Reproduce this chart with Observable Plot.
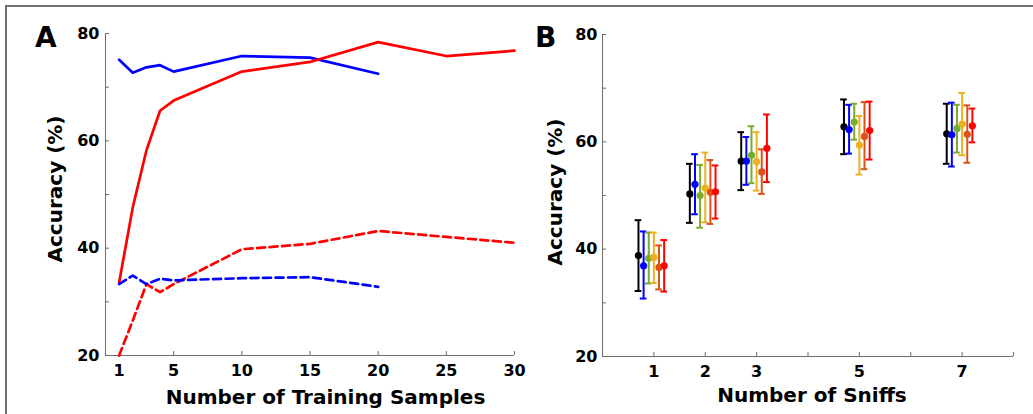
<!DOCTYPE html>
<html><head><meta charset="utf-8">
<script src="https://cdn.jsdelivr.net/npm/d3@7"></script>
<script src="https://cdn.jsdelivr.net/npm/@observablehq/plot@0.6"></script>
<style>
body{margin:0;background:#fff;}
#fig{position:relative;width:1033px;height:414px;overflow:hidden;background:#fff;font-family:"DejaVu Sans",sans-serif;}
#fig > svg{position:absolute;top:0;}
</style></head><body><div id="fig"></div>
<script>
// ---------- Panel A data ----------
const samplesBlue = [1, 2, 3, 4, 5, 10, 15, 20];
const samplesRed = [1, 2, 3, 4, 5, 10, 15, 20, 25, 30];
const blueSolid = [75.1, 72.7, 73.7, 74.1, 72.9, 75.8, 75.5, 72.5];
const blueDashed = [33.3, 34.9, 33.3, 34.3, 34.0, 34.4, 34.6, 32.8];
const redSolid = [33.6, 47.6, 58.2, 65.6, 67.5, 72.9, 74.7, 78.4, 75.8, 76.8];
const redDashed = [20.0, 26.5, 33.3, 31.8, 33.3, 39.8, 40.8, 43.2, 42.1, 41.0];
const xTickLabelsA = [1, 5, 10, 15, 20, 25, 30];
const xTickMarksA = [5, 10, 15, 20, 25, 30];
const yTickLabels = [20, 40, 60, 80];
const yTickMarks = [20, 30, 40, 50, 60, 70, 80];

// ---------- Panel B data ----------
const sniffCounts = [1, 2, 3, 5, 7];
const xTickLabelsB = [1, 2, 3, 5, 7];
const xTickMarksB = [1, 2, 3, 4, 5, 6, 7, 8];
const seriesColors = ["#000000", "#0000FF", "#77AC30", "#EDB120", "#D95319", "#FF0000"];
const meanB = [
  [38.8, 50.3, 56.4, 62.8, 61.5],
  [36.9, 52.1, 56.4, 62.3, 61.3],
  [38.3, 50.0, 57.5, 63.7, 62.5],
  [38.5, 51.4, 56.3, 59.4, 63.3],
  [36.6, 50.6, 54.4, 61.0, 61.4],
  [36.9, 50.7, 58.8, 62.1, 63.0]
];
const upperB = [
  [45.4, 55.9, 61.8, 67.9, 67.1],
  [43.3, 57.7, 60.9, 66.9, 67.3],
  [43.1, 55.7, 62.9, 67.1, 66.9],
  [43.1, 58.0, 61.8, 64.8, 69.1],
  [40.7, 56.6, 58.6, 67.4, 66.8],
  [41.7, 55.6, 65.1, 67.5, 66.2]
];
const lowerB = [
  [32.2, 44.9, 51.0, 57.7, 55.9],
  [30.8, 46.5, 52.0, 57.8, 55.4],
  [33.6, 44.0, 52.3, 60.4, 58.0],
  [33.7, 45.0, 50.9, 53.9, 57.5],
  [32.5, 44.7, 50.3, 54.9, 56.1],
  [32.1, 45.7, 52.5, 56.7, 59.9]
];

const axisGray = "#6e6e6e";
const font = '"DejaVu Sans", sans-serif';
const baseStyle = {fontFamily: font, fontWeight: "bold", fontSize: "16px", color: "#000", background: "transparent", overflow: "visible"};

const toRows = (xs, ys) => xs.map((x, i) => ({x, y: ys[i]}));

const fig = document.getElementById("fig");

const plotA = Plot.plot({
  width: 520, height: 414,
  marginLeft: 105, marginRight: 6, marginTop: 33, marginBottom: 59,
  x: {domain: [0, 30], label: null},
  y: {domain: [20, 80], label: null},
  style: baseStyle,
  marks: [
    Plot.ruleY([20], {stroke: axisGray}),
    Plot.ruleX([0], {stroke: axisGray}),
    Plot.axisY({ticks: yTickMarks, tickSize: -4, tickFormat: () => "", color: axisGray, label: null}),
    Plot.axisY({ticks: yTickLabels, tickSize: 0, tickPadding: 6, color: "#000", label: null}),
    Plot.axisX({ticks: xTickMarksA, tickSize: -4, tickFormat: () => "", color: axisGray, label: null}),
    Plot.axisX({ticks: xTickLabelsA, tickSize: 0, tickPadding: 9, color: "#000", label: null}),
    Plot.line(toRows(samplesBlue, blueSolid), {x: "x", y: "y", stroke: "#0000FF", strokeWidth: 2.7}),
    Plot.line(toRows(samplesRed, redSolid), {x: "x", y: "y", stroke: "#FF0000", strokeWidth: 2.7}),
    Plot.line(toRows(samplesRed, redDashed), {x: "x", y: "y", stroke: "#FF0000", strokeWidth: 2.7, strokeDasharray: "8,4.5"}),
    Plot.line(toRows(samplesBlue, blueDashed), {x: "x", y: "y", stroke: "#0000FF", strokeWidth: 2.7, strokeDasharray: "8,4.5"})
  ]
});
plotA.style.left = "0px";
fig.appendChild(plotA);

// error bar rows, dodged by series index
const dodge = 0.1, capHalf = 0.065;
const seriesMarks = seriesColors.flatMap((color, s) => {
  const rows = sniffCounts.map((n, i) => ({
    x: n + (s - 3) * dodge, mean: meanB[s][i], lo: lowerB[s][i], hi: upperB[s][i]
  }));
  return [
    Plot.ruleX(rows, {x: "x", y1: "lo", y2: "hi", stroke: color, strokeWidth: 2}),
    Plot.ruleY(rows, {y: "hi", x1: d => d.x - capHalf, x2: d => d.x + capHalf, stroke: color, strokeWidth: 2}),
    Plot.ruleY(rows, {y: "lo", x1: d => d.x - capHalf, x2: d => d.x + capHalf, stroke: color, strokeWidth: 2}),
    Plot.dot(rows, {x: "x", y: "mean", fill: color, r: 3.6})
  ];
});

const plotB = Plot.plot({
  width: 513, height: 414,
  marginLeft: 82, marginRight: 20, marginTop: 34, marginBottom: 58,
  x: {domain: [0, 8], label: null},
  y: {domain: [20, 80], label: null},
  style: baseStyle,
  marks: [
    Plot.ruleY([20], {stroke: axisGray}),
    Plot.ruleX([0], {stroke: axisGray}),
    Plot.axisY({ticks: yTickMarks, tickSize: -4, tickFormat: () => "", color: axisGray, label: null}),
    Plot.axisY({ticks: yTickLabels, tickSize: 0, tickPadding: 5, color: "#000", label: null}),
    Plot.axisX({ticks: xTickMarksB, tickSize: -4, tickFormat: () => "", color: axisGray, label: null}),
    Plot.axisX({ticks: xTickLabelsB, tickSize: 0, tickPadding: 9, color: "#000", label: null}),
    ...seriesMarks
  ]
});
plotB.style.left = "520px";
fig.appendChild(plotB);

// overlay: border, panel letters, axis titles
const ns = "http://www.w3.org/2000/svg";
const ov = document.createElementNS(ns, "svg");
ov.setAttribute("width", 1033); ov.setAttribute("height", 414);
ov.style.left = "0px"; ov.style.pointerEvents = "none";
function addLine(x1, y1, x2, y2) {
  const l = document.createElementNS(ns, "line");
  l.setAttribute("x1", x1); l.setAttribute("y1", y1); l.setAttribute("x2", x2); l.setAttribute("y2", y2);
  l.setAttribute("stroke", "#707070"); l.setAttribute("stroke-width", 2);
  ov.appendChild(l);
}
function addText(str, x, y, size, anchor, rotate) {
  const t = document.createElementNS(ns, "text");
  t.textContent = str;
  t.setAttribute("font-family", font);
  t.setAttribute("font-weight", "bold");
  t.setAttribute("font-size", size);
  t.setAttribute("fill", "#000");
  t.setAttribute("text-anchor", anchor);
  t.setAttribute("transform", `translate(${x},${y})` + (rotate ? " rotate(-90)" : ""));
  ov.appendChild(t);
}
addLine(5, 6, 1033, 6);
addLine(6, 5, 6, 414);
addText("A", 35, 47, 28, "start", false);
addText("B", 535, 47, 28, "start", false);
addText("Number of Training Samples", 325.5, 404, 20, "middle", false);
addText("Number of Sniffs", 812, 402, 20, "middle", false);
addText("Accuracy (%)", 62, 189, 20, "middle", true);
addText("Accuracy (%)", 562, 192, 20, "middle", true);
fig.appendChild(ov);
</script></body></html>
